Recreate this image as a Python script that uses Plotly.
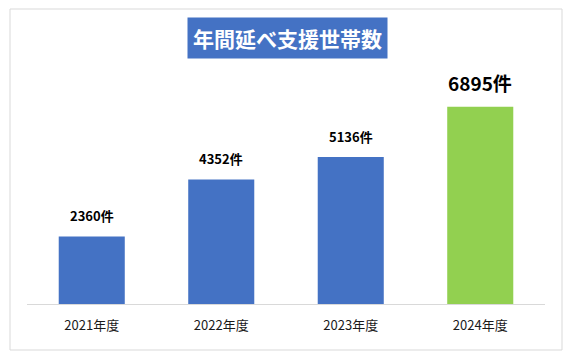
import plotly.graph_objects as go

categories = ["2021年度", "2022年度", "2023年度", "2024年度"]
values = [2360, 4352, 5136, 6895]
bar_colors = ["#4472C4", "#4472C4", "#4472C4", "#92D050"]
label_sizes = [13, 13, 13, 19]
title_text = "年間延べ支援世帯数"

FONT = "Noto Sans CJK JP, Noto Sans, sans-serif"

# page body has an 8px margin; figure coordinates are offset accordingly
W, H = 558, 347
L, R, T, B = 19, 21, 67, 51
PW, PH = W - L - R, H - T - B


def px_x(x):
    return (x - 8 - L) / PW


def px_y(y):
    return (H - B - (y - 8)) / PH


fig = go.Figure()
fig.add_trace(go.Bar(
    x=categories,
    y=values,
    marker=dict(color=bar_colors, line=dict(width=0)),
    hoverinfo="skip",
))

annotations = [dict(
    x=c, y=v, xref="x", yref="y",
    text=f"<b>{v}件</b>",
    showarrow=False, xanchor="center", yanchor="bottom", yshift=9,
    font=dict(size=s, color="#000000", family=FONT),
) for c, v, s in zip(categories, values, label_sizes)]

annotations.append(dict(
    text=f"<b>{title_text}</b>",
    xref="paper", yref="paper",
    x=px_x(287), y=px_y(38),
    xanchor="center", yanchor="middle",
    showarrow=False,
    font=dict(size=21, color="#ffffff", family=FONT),
    bgcolor="#4472C4",
    borderpad=5,
))

fig.update_layout(
    width=W,
    height=H,
    margin=dict(l=L, r=R, t=T, b=B),
    paper_bgcolor="#ffffff",
    plot_bgcolor="#ffffff",
    bargap=0.49,
    showlegend=False,
    font=dict(family=FONT, color="#222222"),
    xaxis=dict(
        showline=True, linecolor="#d9d9d9", linewidth=1,
        tickfont=dict(size=13, color="#1a1a1a", family=FONT),
        ticks="", showgrid=False, fixedrange=True,
        ticklabelstandoff=9,
    ),
    yaxis=dict(
        range=[0, 8000], visible=False, showgrid=False, zeroline=False,
        fixedrange=True,
    ),
    shapes=[dict(
        type="rect", xref="paper", yref="paper",
        x0=px_x(10), x1=px_x(562),
        y0=px_y(350), y1=px_y(9),
        line=dict(color="#d9d9d9", width=1), fillcolor="rgba(0,0,0,0)",
        layer="below",
    )],
    annotations=annotations,
)

fig.write_html("out.html")
